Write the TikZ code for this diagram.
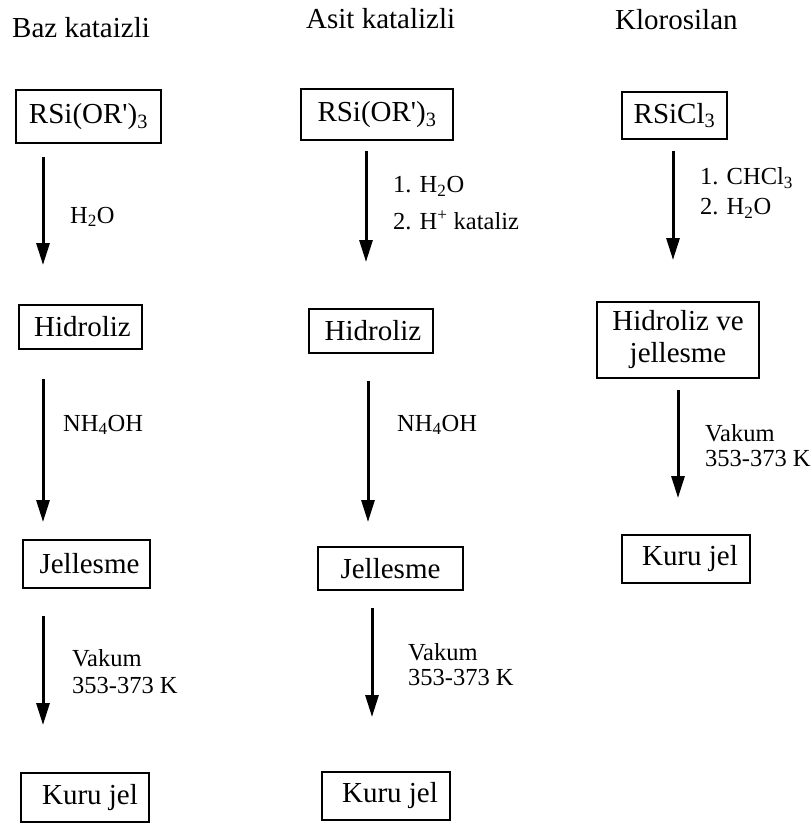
\documentclass[tikz,border=0pt]{standalone}
\usepackage{fontspec}
\setmainfont{Liberation Serif}
\usetikzlibrary{arrows.meta}
\begin{document}
\begin{tikzpicture}[x=1pt,y=-1pt,
  box/.style={draw,line width=2pt,inner sep=0pt,font=\fontsize{29}{32}\selectfont,align=center},
  lbl/.style={anchor=west,inner sep=0pt,align=left},
  ttl/.style={anchor=base west,inner sep=0pt,font=\fontsize{29}{32}\selectfont},
  arr/.style={line width=3pt,-{Triangle[length=22pt,width=13pt]}}]
\useasboundingbox (0,0) rectangle (812,823);

% titles
\node[ttl] (t1) at (12,37) {Baz kataizli};
\node[ttl] (t2) at (306,28) {Asit katalizli};
\node[ttl] (t3) at (615,29) {Klorosilan};

% column 1
\node[box,minimum width=145pt,minimum height=53pt] (a1) at (88.5,116.5) {RSi(OR\textquotesingle)\textsubscript{3}};
\node[box,minimum width=123pt,minimum height=44pt] (a2) at (80.5,327) {\hspace{4pt}Hidroliz};
\node[box,minimum width=127pt,minimum height=48pt] (a3) at (86.5,564) {\hspace{6pt}Jellesme};
\node[box,minimum width=128pt,minimum height=49pt] (a4) at (85,797.5) {\hspace{10pt}Kuru jel};

\coordinate (a1s) at (43,157); \coordinate (a2e) at (43,265);
\coordinate (a2s) at (43,379); \coordinate (a3e) at (43,522);
\coordinate (a3s) at (43,616); \coordinate (a4e) at (43,725);
\draw[arr] (a1s) -- (a2e);
\draw[arr] (a2s) -- (a3e);
\draw[arr] (a3s) -- (a4e);

\node[lbl,font=\fontsize{24.5}{27}\selectfont] (la1) at (70,217) {H\textsubscript{2}O};
\node[lbl,font=\fontsize{24.5}{27}\selectfont] (la2) at (63,425) {NH\textsubscript{4}OH};
\node[lbl,font=\fontsize{24.5}{27}\selectfont] (la3) at (72,671.5) {Vakum\\353-373 K};

% column 2
\node[box,minimum width=152pt,minimum height=51pt] (b1) at (377,114.5) {RSi(OR\textquotesingle)\textsubscript{3}};
\node[box,minimum width=124pt,minimum height=44pt] (b2) at (371,331) {\hspace{4pt}Hidroliz};
\node[box,minimum width=145pt,minimum height=43pt] (b3) at (390.5,568.5) {Jellesme};
\node[box,minimum width=128pt,minimum height=48pt] (b4) at (386,796) {\hspace{8pt}Kuru jel};

\coordinate (b1s) at (366,151); \coordinate (b2e) at (366,262);
\coordinate (b2s) at (368,381); \coordinate (b3e) at (368,522);
\coordinate (b3s) at (372,608); \coordinate (b4e) at (372,717);
\draw[arr] (b1s) -- (b2e);
\draw[arr] (b2s) -- (b3e);
\draw[arr] (b3s) -- (b4e);

\node[lbl,font=\fontsize{24.5}{37}\selectfont] (lb1) at (393,203.5) {1. H\textsubscript{2}O\\2. H\textsuperscript{+} kataliz};
\node[lbl,font=\fontsize{24.5}{27}\selectfont] (lb2) at (397,425) {NH\textsubscript{4}OH};
\node[lbl,font=\fontsize{24.5}{25}\selectfont] (lb3) at (408,665) {Vakum\\353-373 K};

% column 3
\node[box,minimum width=105pt,minimum height=47pt] (c1) at (674.5,115.5) {RSiCl\textsubscript{3}};
\node[box,minimum width=162pt,minimum height=76pt] (c2) at (678,340) {Hidroliz ve\\jellesme};
\node[box,minimum width=128pt,minimum height=48pt] (c3) at (686,559) {\hspace{8pt}Kuru jel};

\coordinate (c1s) at (673,151); \coordinate (c2e) at (673,260);
\coordinate (c2s) at (678,390); \coordinate (c3e) at (678,498);
\draw[arr] (c1s) -- (c2e);
\draw[arr] (c2s) -- (c3e);

\node[lbl,font=\fontsize{24.5}{30}\selectfont] (lc1) at (700,193) {1. CHCl\textsubscript{3}\\2. H\textsubscript{2}O};
\node[lbl,font=\fontsize{24.5}{25}\selectfont] (lc2) at (705,445.5) {Vakum\\353-373 K};
\end{tikzpicture}
\end{document}
